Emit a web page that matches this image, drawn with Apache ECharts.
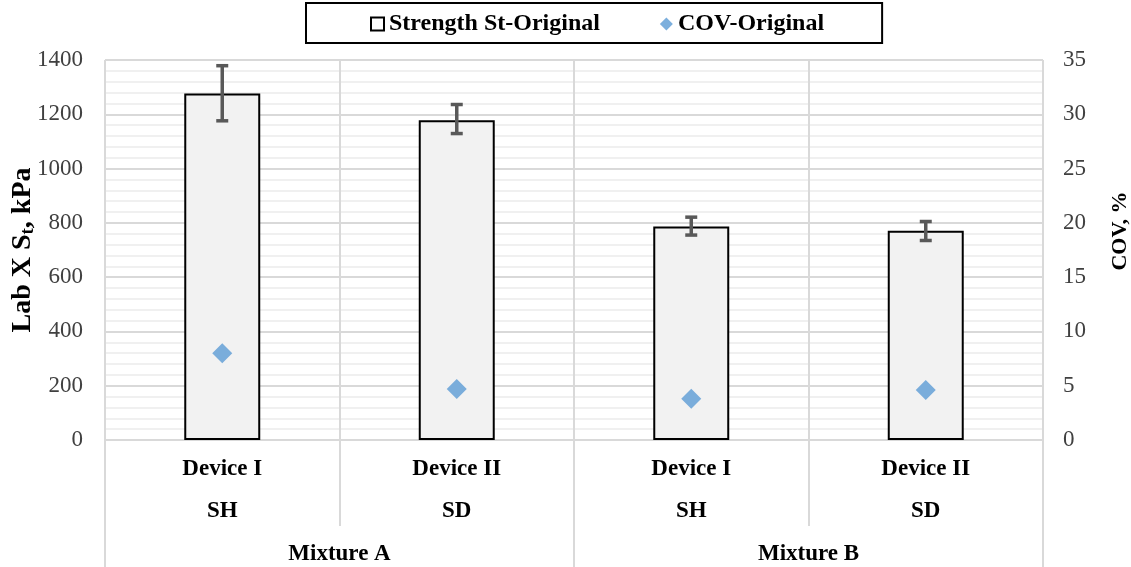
<!DOCTYPE html>
<html><head><meta charset="utf-8">
<script src="https://cdn.jsdelivr.net/npm/echarts@6/dist/echarts.min.js"></script>
<style>html,body{margin:0;padding:0;background:#fff}#c{width:1131px;height:567px}</style>
</head><body><div id="c"></div>
<script>
const devices = ['Device I\nSH', 'Device II\nSD', 'Device I\nSH', 'Device II\nSD'];
const mixtures = ['Mixture A', 'Mixture B'];
const strength = [1277, 1178, 787, 771];
const errLow = [1176, 1129, 755, 735];
const errHigh = [1379, 1236, 821, 805];
const cov = [8.0, 4.7, 3.8, 4.6];
const leftTicks = [0, 1400, 200];
const rightTicks = [0, 35, 5];

const FONT = '"Liberation Serif", "Times New Roman", serif';
const chart = echarts.init(document.getElementById('c'));
chart.setOption({
  animation: false,
  grid: { left: 105, right: 88, top: 60, bottom: 127, outerBoundsMode: 'none', containLabel: false },
  legend: {
    left: 306, top: 3,
    padding: [9, 58, 7, 64],
    borderColor: '#000', borderWidth: 2,
    itemGap: 60, itemWidth: 13, itemHeight: 13,
    textStyle: { fontFamily: FONT, fontWeight: 'bold', fontSize: 24, color: '#000' },
    data: [
      { name: 'Strength St-Original', icon: 'rect', itemStyle: { color: '#fff', borderColor: '#000', borderWidth: 2 } },
      { name: 'COV-Original', icon: 'diamond', itemStyle: { color: '#5b9bd5' } }
    ]
  },
  xAxis: [
    {
      type: 'category', data: devices, position: 'bottom',
      axisLine: { lineStyle: { color: '#d9d9d9', width: 2 } },
      axisTick: { show: true, length: 86, interval: 0, lineStyle: { color: '#d9d9d9', width: 2 } },
      splitLine: { show: true, interval: 0, lineStyle: { color: '#d9d9d9', width: 2 } },
      axisLabel: { margin: 8, interval: 0, fontFamily: FONT, fontWeight: 'bold', fontSize: 23, lineHeight: 42, color: '#000' }
    },
    {
      type: 'category', data: mixtures, position: 'bottom',
      axisLine: { show: false },
      axisTick: { show: true, length: 127, interval: 0, lineStyle: { color: '#d9d9d9', width: 2 } },
      axisLabel: { margin: 103, fontFamily: FONT, fontWeight: 'bold', fontSize: 23, color: '#000' }
    }
  ],
  yAxis: [
    {
      type: 'value', min: leftTicks[0], max: leftTicks[1], interval: leftTicks[2],
      name: 'Lab X S{sub|t}, kPa', nameLocation: 'middle', nameGap: 67, nameRotate: 90, nameMoveOverlap: false,
      nameTextStyle: { fontFamily: FONT, fontWeight: 'bold', fontSize: 28, color: '#000',
        rich: { sub: { fontFamily: FONT, fontWeight: 'bold', fontSize: 19, color: '#000', verticalAlign: 'bottom', padding: [11, 0, 0, 0] } } },
      axisLine: { show: false }, axisTick: { show: false },
      axisLabel: { margin: 22, fontFamily: FONT, fontSize: 23, color: '#404040', formatter: v => String(v) },
      splitLine: { lineStyle: { color: '#d9d9d9', width: 2 } },
      minorTick: { show: false, splitNumber: 5 },
      minorSplitLine: { show: true, lineStyle: { color: '#ececec', width: 1.5 } }
    },
    {
      type: 'value', min: rightTicks[0], max: rightTicks[1], interval: rightTicks[2],
      name: 'COV, %', nameLocation: 'middle', nameGap: 66, nameRotate: 90, nameMoveOverlap: false,
      nameTextStyle: { fontFamily: FONT, fontWeight: 'bold', fontSize: 22, color: '#000', padding: [0, 0, 0, 38] },
      axisLine: { show: false }, axisTick: { show: false },
      axisLabel: { margin: 20, fontFamily: FONT, fontSize: 23, color: '#404040', formatter: v => String(v) },
      splitLine: { show: false }
    }
  ],
  series: [
    {
      name: 'Strength St-Original', type: 'bar', data: strength, barWidth: '32.4%',
      itemStyle: { color: '#f2f2f2', borderColor: '#000', borderWidth: 2 }, z: 2
    },
    {
      name: 'errors', type: 'custom', z: 3,
      data: errLow.map((l, i) => [i, l, errHigh[i]]),
      renderItem: function (params, api) {
        const lo = api.coord([api.value(0), api.value(1)]);
        const hi = api.coord([api.value(0), api.value(2)]);
        const x = lo[0], w = 6;
        const st = { stroke: '#595959', lineWidth: 3.5 };
        return { type: 'group', children: [
          { type: 'line', shape: { x1: x, y1: lo[1], x2: x, y2: hi[1] }, style: st },
          { type: 'line', shape: { x1: x - w, y1: lo[1], x2: x + w, y2: lo[1] }, style: st },
          { type: 'line', shape: { x1: x - w, y1: hi[1], x2: x + w, y2: hi[1] }, style: st }
        ]};
      }
    },
    {
      name: 'COV-Original', type: 'scatter', yAxisIndex: 1, data: cov,
      symbol: 'diamond', symbolSize: 20, itemStyle: { color: '#5b9bd5' }, z: 4
    }
  ]
});
</script></body></html>
